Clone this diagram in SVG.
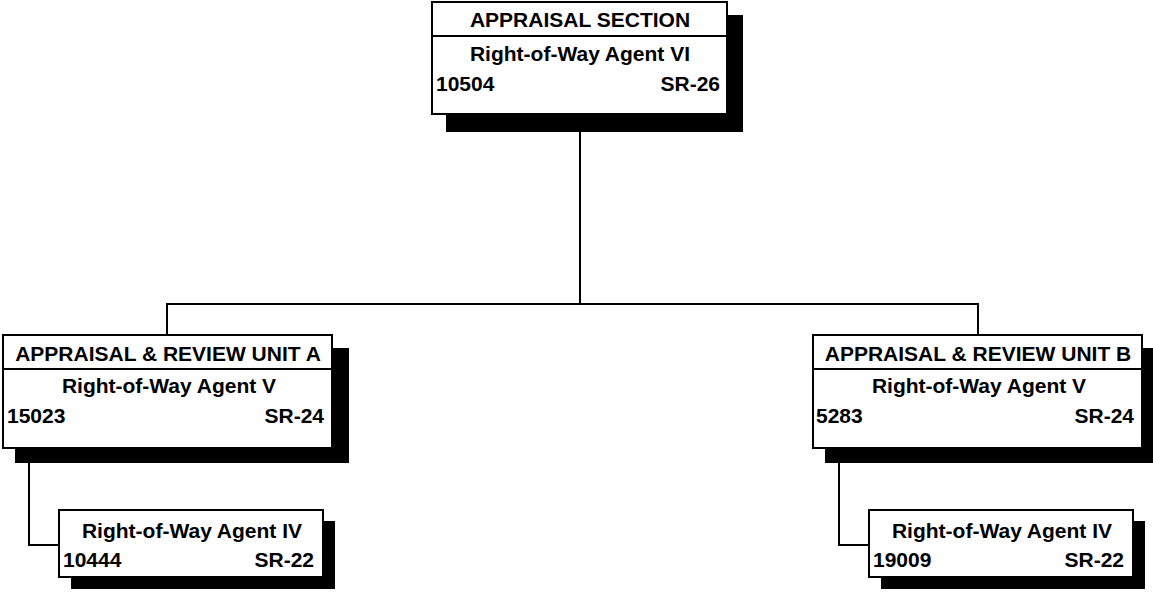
<svg xmlns="http://www.w3.org/2000/svg" width="1153" height="592" viewBox="0 0 1153 592">
<style>
.box{fill:#fff;stroke:#000;stroke-width:2}
.sh{fill:#000}
.div{stroke:#000;stroke-width:2}
.t{font-family:"Liberation Sans",Arial,sans-serif;font-weight:bold;font-size:21px;fill:#000}
.c{text-anchor:middle}
.e{text-anchor:end}
.conn{fill:none;stroke:#000;stroke-width:2}
</style>
<rect width="1153" height="592" fill="#fff"/>
<g id="connectors">
<path class="conn" d="M580,132 V304 M167,304 H978 M167,303 V335 M978,303 V335"/>
<path class="conn" d="M29,463 V545 H59"/>
<path class="conn" d="M839,463 V545 H869"/>
</g>
<g id="appraisal-section">
<rect class="sh" x="446" y="15" width="297" height="117"/>
<rect class="box" x="432" y="2" width="295" height="112"/>
<line class="div" x1="432" y1="36" x2="727" y2="36"/>
<text class="t c" x="580" y="27">APPRAISAL SECTION</text>
<text class="t c" x="580" y="61">Right-of-Way Agent VI</text>
<text class="t" x="436" y="91">10504</text>
<text class="t e" x="720" y="91">SR-26</text>
</g>
<g id="unit-a">
<rect class="sh" x="15" y="348" width="334" height="115"/>
<rect class="box" x="3" y="335" width="329" height="113"/>
<line class="div" x1="3" y1="369" x2="332" y2="369"/>
<text class="t c" x="168" y="361">APPRAISAL &amp; REVIEW UNIT A</text>
<text class="t c" x="169" y="393">Right-of-Way Agent V</text>
<text class="t" x="7" y="423">15023</text>
<text class="t e" x="324" y="423">SR-24</text>
</g>
<g id="unit-b">
<rect class="sh" x="825" y="348" width="334" height="115"/>
<rect class="box" x="813" y="335" width="329" height="113"/>
<line class="div" x1="813" y1="369" x2="1142" y2="369"/>
<text class="t c" x="978" y="361">APPRAISAL &amp; REVIEW UNIT B</text>
<text class="t c" x="979" y="393">Right-of-Way Agent V</text>
<text class="t" x="816" y="423">5283</text>
<text class="t e" x="1134" y="423">SR-24</text>
</g>
<g id="agent-a">
<rect class="sh" x="71" y="521" width="264" height="68"/>
<rect class="box" x="59" y="510" width="264" height="67"/>
<text class="t c" x="192" y="538">Right-of-Way Agent IV</text>
<text class="t" x="63" y="567">10444</text>
<text class="t e" x="314" y="567">SR-22</text>
</g>
<g id="agent-b">
<rect class="sh" x="881" y="521" width="264" height="68"/>
<rect class="box" x="869" y="510" width="264" height="67"/>
<text class="t c" x="1002" y="538">Right-of-Way Agent IV</text>
<text class="t" x="873" y="567">19009</text>
<text class="t e" x="1124" y="567">SR-22</text>
</g>
</svg>
